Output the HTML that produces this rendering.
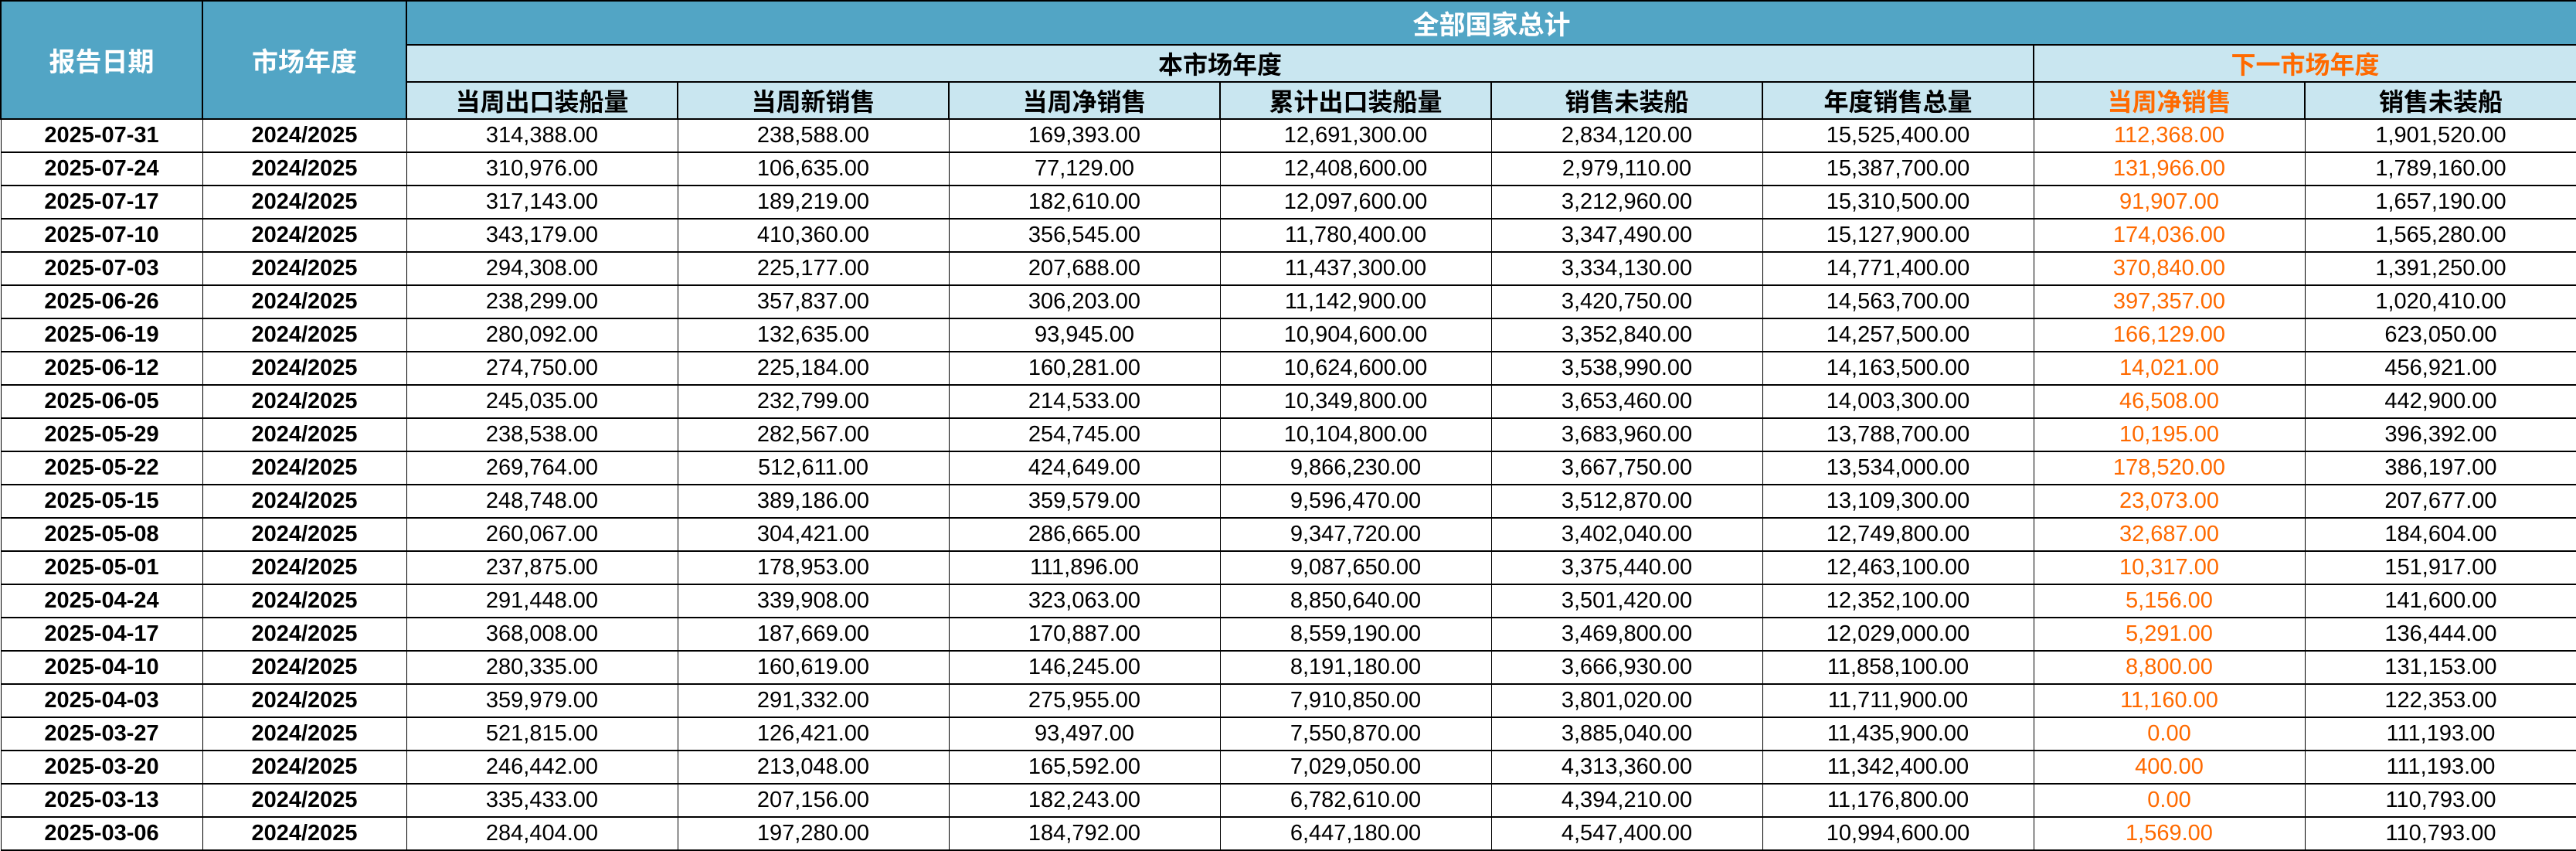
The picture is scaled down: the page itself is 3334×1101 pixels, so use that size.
<!DOCTYPE html>
<html><head><meta charset="utf-8"><style>
html,body{margin:0;padding:0;background:#fff;}
table{border-collapse:collapse;table-layout:fixed;width:3334px;font-family:"Liberation Sans","Noto Sans CJK SC",sans-serif;}
td{border:2px solid #000;padding:0;text-align:center;white-space:nowrap;overflow:hidden;}
.h1{background:#52a5c5;color:#fff;font-weight:bold;font-size:34px;}
.h2{background:#c9e6f0;color:#000;font-weight:bold;font-size:32px;}
.o{color:#ff6a00;}
tbody td{font-size:29px;height:41px;border-width:1px 1px 2px 1px;}
tbody td.b{font-weight:bold;}
tbody td.o{color:#ff6a00;}
</style></head><body>
<table>
<colgroup><col style="width:261px"><col style="width:264px"><col span="7" style="width:351px"><col style="width:352px"></colgroup>
<thead>
<tr style="height:57px"><td class="h1" rowspan="3">报告日期</td><td class="h1" rowspan="3">市场年度</td><td class="h1" colspan="8">全部国家总计</td></tr>
<tr style="height:48px"><td class="h2" colspan="6">本市场年度</td><td class="h2 o" colspan="2">下一市场年度</td></tr>
<tr style="height:47px"><td class="h2">当周出口装船量</td><td class="h2">当周新销售</td><td class="h2">当周净销售</td><td class="h2">累计出口装船量</td><td class="h2">销售未装船</td><td class="h2">年度销售总量</td><td class="h2 o">当周净销售</td><td class="h2">销售未装船</td></tr>
</thead>
<tbody>
<tr><td class="b">2025-07-31</td><td class="b">2024/2025</td><td>314,388.00</td><td>238,588.00</td><td>169,393.00</td><td>12,691,300.00</td><td>2,834,120.00</td><td>15,525,400.00</td><td class="o">112,368.00</td><td>1,901,520.00</td></tr>
<tr><td class="b">2025-07-24</td><td class="b">2024/2025</td><td>310,976.00</td><td>106,635.00</td><td>77,129.00</td><td>12,408,600.00</td><td>2,979,110.00</td><td>15,387,700.00</td><td class="o">131,966.00</td><td>1,789,160.00</td></tr>
<tr><td class="b">2025-07-17</td><td class="b">2024/2025</td><td>317,143.00</td><td>189,219.00</td><td>182,610.00</td><td>12,097,600.00</td><td>3,212,960.00</td><td>15,310,500.00</td><td class="o">91,907.00</td><td>1,657,190.00</td></tr>
<tr><td class="b">2025-07-10</td><td class="b">2024/2025</td><td>343,179.00</td><td>410,360.00</td><td>356,545.00</td><td>11,780,400.00</td><td>3,347,490.00</td><td>15,127,900.00</td><td class="o">174,036.00</td><td>1,565,280.00</td></tr>
<tr><td class="b">2025-07-03</td><td class="b">2024/2025</td><td>294,308.00</td><td>225,177.00</td><td>207,688.00</td><td>11,437,300.00</td><td>3,334,130.00</td><td>14,771,400.00</td><td class="o">370,840.00</td><td>1,391,250.00</td></tr>
<tr><td class="b">2025-06-26</td><td class="b">2024/2025</td><td>238,299.00</td><td>357,837.00</td><td>306,203.00</td><td>11,142,900.00</td><td>3,420,750.00</td><td>14,563,700.00</td><td class="o">397,357.00</td><td>1,020,410.00</td></tr>
<tr><td class="b">2025-06-19</td><td class="b">2024/2025</td><td>280,092.00</td><td>132,635.00</td><td>93,945.00</td><td>10,904,600.00</td><td>3,352,840.00</td><td>14,257,500.00</td><td class="o">166,129.00</td><td>623,050.00</td></tr>
<tr><td class="b">2025-06-12</td><td class="b">2024/2025</td><td>274,750.00</td><td>225,184.00</td><td>160,281.00</td><td>10,624,600.00</td><td>3,538,990.00</td><td>14,163,500.00</td><td class="o">14,021.00</td><td>456,921.00</td></tr>
<tr><td class="b">2025-06-05</td><td class="b">2024/2025</td><td>245,035.00</td><td>232,799.00</td><td>214,533.00</td><td>10,349,800.00</td><td>3,653,460.00</td><td>14,003,300.00</td><td class="o">46,508.00</td><td>442,900.00</td></tr>
<tr><td class="b">2025-05-29</td><td class="b">2024/2025</td><td>238,538.00</td><td>282,567.00</td><td>254,745.00</td><td>10,104,800.00</td><td>3,683,960.00</td><td>13,788,700.00</td><td class="o">10,195.00</td><td>396,392.00</td></tr>
<tr><td class="b">2025-05-22</td><td class="b">2024/2025</td><td>269,764.00</td><td>512,611.00</td><td>424,649.00</td><td>9,866,230.00</td><td>3,667,750.00</td><td>13,534,000.00</td><td class="o">178,520.00</td><td>386,197.00</td></tr>
<tr><td class="b">2025-05-15</td><td class="b">2024/2025</td><td>248,748.00</td><td>389,186.00</td><td>359,579.00</td><td>9,596,470.00</td><td>3,512,870.00</td><td>13,109,300.00</td><td class="o">23,073.00</td><td>207,677.00</td></tr>
<tr><td class="b">2025-05-08</td><td class="b">2024/2025</td><td>260,067.00</td><td>304,421.00</td><td>286,665.00</td><td>9,347,720.00</td><td>3,402,040.00</td><td>12,749,800.00</td><td class="o">32,687.00</td><td>184,604.00</td></tr>
<tr><td class="b">2025-05-01</td><td class="b">2024/2025</td><td>237,875.00</td><td>178,953.00</td><td>111,896.00</td><td>9,087,650.00</td><td>3,375,440.00</td><td>12,463,100.00</td><td class="o">10,317.00</td><td>151,917.00</td></tr>
<tr><td class="b">2025-04-24</td><td class="b">2024/2025</td><td>291,448.00</td><td>339,908.00</td><td>323,063.00</td><td>8,850,640.00</td><td>3,501,420.00</td><td>12,352,100.00</td><td class="o">5,156.00</td><td>141,600.00</td></tr>
<tr><td class="b">2025-04-17</td><td class="b">2024/2025</td><td>368,008.00</td><td>187,669.00</td><td>170,887.00</td><td>8,559,190.00</td><td>3,469,800.00</td><td>12,029,000.00</td><td class="o">5,291.00</td><td>136,444.00</td></tr>
<tr><td class="b">2025-04-10</td><td class="b">2024/2025</td><td>280,335.00</td><td>160,619.00</td><td>146,245.00</td><td>8,191,180.00</td><td>3,666,930.00</td><td>11,858,100.00</td><td class="o">8,800.00</td><td>131,153.00</td></tr>
<tr><td class="b">2025-04-03</td><td class="b">2024/2025</td><td>359,979.00</td><td>291,332.00</td><td>275,955.00</td><td>7,910,850.00</td><td>3,801,020.00</td><td>11,711,900.00</td><td class="o">11,160.00</td><td>122,353.00</td></tr>
<tr><td class="b">2025-03-27</td><td class="b">2024/2025</td><td>521,815.00</td><td>126,421.00</td><td>93,497.00</td><td>7,550,870.00</td><td>3,885,040.00</td><td>11,435,900.00</td><td class="o">0.00</td><td>111,193.00</td></tr>
<tr><td class="b">2025-03-20</td><td class="b">2024/2025</td><td>246,442.00</td><td>213,048.00</td><td>165,592.00</td><td>7,029,050.00</td><td>4,313,360.00</td><td>11,342,400.00</td><td class="o">400.00</td><td>111,193.00</td></tr>
<tr><td class="b">2025-03-13</td><td class="b">2024/2025</td><td>335,433.00</td><td>207,156.00</td><td>182,243.00</td><td>6,782,610.00</td><td>4,394,210.00</td><td>11,176,800.00</td><td class="o">0.00</td><td>110,793.00</td></tr>
<tr><td class="b">2025-03-06</td><td class="b">2024/2025</td><td>284,404.00</td><td>197,280.00</td><td>184,792.00</td><td>6,447,180.00</td><td>4,547,400.00</td><td>10,994,600.00</td><td class="o">1,569.00</td><td>110,793.00</td></tr>
</tbody>
</table>
</body></html>
